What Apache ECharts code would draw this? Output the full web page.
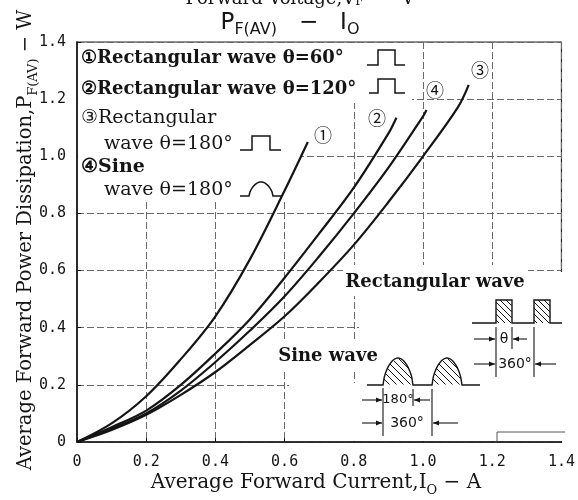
<!DOCTYPE html>
<html><head><meta charset="utf-8">
<script src="https://cdn.jsdelivr.net/npm/echarts@6/dist/echarts.min.js"></script>
<style>html,body{margin:0;padding:0;background:#fff}#c{width:578px;height:500px}</style>
</head><body><div id="c"></div>
<script>
// ---- data ----
const xTicks = [0, 0.2, 0.4, 0.6, 0.8, 1.0, 1.2, 1.4];
const yTicks = [0, 0.2, 0.4, 0.6, 0.8, 1.0, 1.2, 1.4];
const curveNames = ['①', '②', '③', '④'];
const curve1X = [0, 0.1, 0.2, 0.3, 0.4, 0.5, 0.6, 0.667];
const curve1Y = [0, 0.065, 0.16, 0.29, 0.44, 0.64, 0.88, 1.05];
const curve2X = [0, 0.1, 0.2, 0.3, 0.4, 0.5, 0.6, 0.7, 0.8, 0.9, 0.923];
const curve2Y = [0, 0.052, 0.11, 0.2, 0.31, 0.43, 0.575, 0.73, 0.89, 1.08, 1.135];
const curve3X = [0, 0.1, 0.2, 0.3, 0.4, 0.5, 0.6, 0.7, 0.8, 0.9, 1.0, 1.1, 1.132];
const curve3Y = [0, 0.042, 0.095, 0.165, 0.245, 0.34, 0.44, 0.56, 0.69, 0.84, 1.0, 1.17, 1.25];
const curve4X = [0, 0.1, 0.2, 0.3, 0.4, 0.5, 0.6, 0.7, 0.8, 0.9, 1.0, 1.01];
const curve4Y = [0, 0.047, 0.1, 0.18, 0.28, 0.39, 0.51, 0.65, 0.8, 0.96, 1.14, 1.162];

const SERIF = 'DejaVu Serif';
const INK = '#151515';
const chart = echarts.init(document.getElementById('c'), null, {renderer: 'canvas'});
const zip = (xs, ys) => xs.map((x, i) => [x, ys[i]]);
const fmt = v => (v === 0 ? '0' : v.toFixed(1));

function mkSeries(name, xs, ys) {
  return {name, type: 'line', data: zip(xs, ys), smooth: 0.35, showSymbol: false, symbol: 'none',
    lineStyle: {color: INK, width: 2.2}, z: 3, silent: true};
}

// ---- decorative helpers (annotation drawings) ----
const G = [];
function whiteRect(x, y, w, h) { G.push({type: 'rect', shape: {x, y, width: w, height: h}, style: {fill: '#fff'}, z: 1, silent: true}); }
function pl(points, w, color) { G.push({type: 'polyline', shape: {points}, style: {stroke: color || INK, lineWidth: w || 1.3, fill: null}, z: 6, silent: true}); }
function txt(x, y, text, font, opts) {
  G.push({type: 'text', x, y, z: 7, silent: true, style: Object.assign({text, font, fill: INK, align: 'left', verticalAlign: 'middle'}, opts || {})});
}
function arrow(x1, x2, y) {
  pl([[x1, y], [x2, y]], 1.1);
  const d = x2 > x1 ? -1 : 1;
  G.push({type: 'polygon', shape: {points: [[x2, y], [x2 + d * 6, y - 2.5], [x2 + d * 6, y + 2.5]]}, style: {fill: INK}, z: 6, silent: true});
}
function hatchRect(x0, y0, w, h, step) {
  for (let c = -h + step / 2; c < w; c += step) {
    const t0 = Math.max(0, -c), t1 = Math.min(h, w - c);
    if (t1 > t0) pl([[x0 + c + t0, y0 + t0], [x0 + c + t1, y0 + t1]], 1);
  }
}
function hump(x0, w, yb, H) {
  const pts = [];
  for (let i = 0; i <= 24; i++) {
    const t = i / 24; const s = Math.sin(Math.PI * t);
    pts.push([x0 + w * t, yb - H * Math.pow(s, 0.6)]);
  }
  return pts;
}
function hatchHump(x0, w, yb, H, step) {
  const top = x => yb - H * Math.pow(Math.sin(Math.PI * (x - x0) / w), 0.6);
  for (let c = -H; c < w; c += step) {
    let run = null;
    for (let t = 0; t <= H + w; t += 0.5) {
      const x = x0 + c + t, y = yb - H + t;
      const inside = x > x0 && x < x0 + w && y < yb && y > top(x);
      if (inside) { if (!run) run = [[x, y], [x, y]]; else run[1] = [x, y]; }
      else if (run) { pl(run, 1); run = null; }
    }
    if (run) pl(run, 1);
  }
}

// white patches where the printed diagram hides the grid
whiteRect(78, 43, 334, 60);
whiteRect(78, 103, 222, 58);
whiteRect(78, 160, 207, 42);
whiteRect(343, 265, 185, 31);
whiteRect(359, 272, 207, 169);
whiteRect(289, 383, 277, 58);
whiteRect(272, 340, 108, 32);

// legend text
const LFB = 'bold 18px ' + SERIF, LF2 = '19px ' + SERIF;
txt(81, 58, '①Rectangular wave θ=60°', LFB);
txt(81, 89, '②Rectangular wave θ=120°', LFB);
txt(81, 118, '③Rectangular', LF2);
txt(104, 144, 'wave θ=180°', LF2);
txt(81, 167, '④Sine', 'bold 19px ' + SERIF);
txt(104, 190, 'wave θ=180°', LF2);
// legend wave icons
pl([[367, 65], [378, 65], [378, 50], [395, 50], [395, 65], [405, 65]], 1.5);
pl([[369, 93], [378, 93], [378, 79], [395, 79], [395, 93], [405, 93]], 1.5);
pl([[240, 150], [252, 150], [252, 136], [270, 136], [270, 150], [281, 150]], 1.5);
pl([[240, 196], [249, 196]].concat(hump(249, 24, 196, 14)).concat([[273, 196], [282, 196]]), 1.5);

// rectangular wave diagram
txt(435, 282, 'Rectangular wave', 'bold 18px ' + SERIF, {align: 'center'});
pl([[472, 323], [496, 323], [496, 300], [512, 300], [512, 323], [534, 323], [534, 300], [550, 300], [550, 323], [562, 323]], 1.4);
hatchRect(496, 300, 16, 23, 6);
hatchRect(534, 300, 16, 23, 6);
pl([[496, 327], [496, 377]], 1.1);
pl([[512, 327], [512, 349]], 1.1);
pl([[534, 327], [534, 377]], 1.1);
txt(504, 339, 'θ', '14px DejaVu Sans', {align: 'center'});
arrow(474, 495, 339); arrow(527, 513, 339);
txt(515, 364, '360°', '14px DejaVu Sans', {align: 'center'});
arrow(474, 495, 364); arrow(556, 535, 364);

// sine wave diagram
txt(328, 356, 'Sine wave', 'bold 18px ' + SERIF, {align: 'center'});
pl([[367, 385], [383, 385]].concat(hump(383, 30, 385, 27)).concat([[413, 385], [432, 385]]).concat(hump(432, 30, 385, 27)).concat([[462, 385], [480, 385]]), 1.4);
hatchHump(383, 30, 385, 27, 7);
hatchHump(432, 30, 385, 27, 7);
pl([[383, 388], [383, 436]], 1.1);
pl([[413, 389], [413, 406]], 1.1);
pl([[432, 389], [432, 436]], 1.1);
txt(398, 400, '180°', '13px DejaVu Sans', {align: 'center'});
arrow(362, 382, 400); arrow(430, 414, 400);
txt(407, 423, '360°', '14px DejaVu Sans', {align: 'center'});
arrow(362, 382, 423); arrow(458, 433, 423);
pl([[497, 441], [497, 432], [565, 432]], 1, '#555');

// curve labels
const CL = '18px ' + SERIF + ', Noto Sans CJK JP';
txt(323, 137, curveNames[0], CL, {align: 'center'});
txt(377, 120, curveNames[1], CL, {align: 'center'});
txt(480, 72, curveNames[2], CL, {align: 'center'});
txt(435, 92, curveNames[3], CL, {align: 'center'});

// titles and axis names
G.push({type: 'text', x: 300, y: -10, z: 7, silent: true, style: {
  text: 'Forward Voltage,V{s|F}  −  V', font: '18px ' + SERIF, fill: INK, align: 'center', verticalAlign: 'top',
  rich: {s: {fontSize: 12, fontFamily: SERIF, verticalAlign: 'bottom', lineHeight: 12}}}});
G.push({type: 'text', x: 290, y: 23, z: 7, silent: true, style: {
  text: '{m|P}{s|F(AV)}{m|   −   I}{s|O}', fill: INK, align: 'center', verticalAlign: 'middle',
  rich: {m: {fontSize: 23, fontFamily: 'DejaVu Sans', lineHeight: 30, verticalAlign: 'middle', fill: INK},
         s: {fontSize: 16, fontFamily: 'DejaVu Sans', lineHeight: 16, verticalAlign: 'bottom', fill: INK}}}});
G.push({type: 'text', x: 316, y: 483, z: 7, silent: true, style: {
  text: '{m|Average Forward Current,I}{s|O}{m| − A}', fill: INK, align: 'center', verticalAlign: 'middle',
  rich: {m: {fontSize: 20, fontFamily: SERIF, lineHeight: 28, verticalAlign: 'middle', fill: INK},
         s: {fontSize: 13, fontFamily: SERIF, lineHeight: 13, verticalAlign: 'bottom', fill: INK}}}});
G.push({type: 'text', x: 26, y: 240, rotation: Math.PI / 2, z: 7, silent: true, style: {
  text: '{m|Average Forward Power Dissipation,P}{s|F(AV)}{m| − W}', fill: INK, align: 'center', verticalAlign: 'middle',
  rich: {m: {fontSize: 19.5, fontFamily: SERIF, lineHeight: 28, verticalAlign: 'middle', fill: INK},
         s: {fontSize: 13, fontFamily: SERIF, lineHeight: 13, verticalAlign: 'bottom', fill: INK}}}});

const axisCommon = {
  type: 'value', min: xTicks[0], max: xTicks[xTicks.length - 1], interval: xTicks[1] - xTicks[0],
  axisLine: {show: true, lineStyle: {color: INK, width: 1.5}},
  axisTick: {show: true, inside: true, length: 4, lineStyle: {color: INK}},
  splitLine: {show: true, lineStyle: {color: '#6a6a6a', width: 1, type: [7, 3]}},
  axisLabel: {formatter: fmt, fontFamily: 'DejaVu Sans Mono', fontSize: 15, color: INK, margin: 11}
};

chart.setOption({
  animation: false,
  backgroundColor: '#fff',
  grid: {left: 77, top: 42, right: 11, bottom: 58, show: true, borderColor: '#222', borderWidth: 1.2},
  xAxis: Object.assign({}, axisCommon, {axisLabel: Object.assign({}, axisCommon.axisLabel, {margin: 13})}),
  yAxis: Object.assign({}, axisCommon, {min: yTicks[0], max: yTicks[yTicks.length - 1], interval: yTicks[1] - yTicks[0]}),
  series: [
    mkSeries(curveNames[0], curve1X, curve1Y),
    mkSeries(curveNames[1], curve2X, curve2Y),
    mkSeries(curveNames[2], curve3X, curve3Y),
    mkSeries(curveNames[3], curve4X, curve4Y)
  ],
  graphic: G
});
</script></body></html>
